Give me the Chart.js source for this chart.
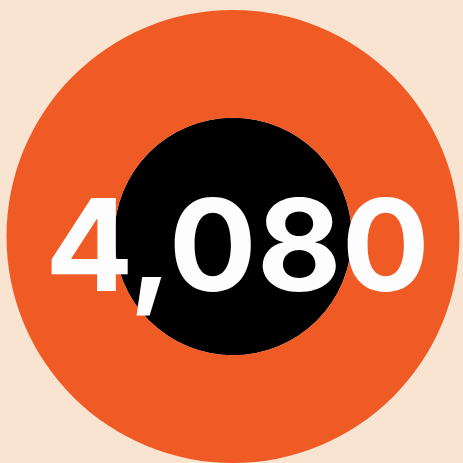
<!DOCTYPE html>
<html>
<head>
<meta charset="utf-8">
<script src="https://cdn.jsdelivr.net/npm/chart.js@4"></script>
<style>
    html, body { margin: 0; padding: 0; background: #f9e4d2; }
    #wrap { width: 463px; height: 463px; }
</style>
</head>
<body>
<div id="wrap"><canvas id="chart"></canvas></div>
<script>
// Chart data: one headline total shown on two stacked discs.
var categories = ["Total"];
var outerValues = [4080];
var innerValues = [4080];
var totalLabel = "4,080";

function drawTotal(chart) {
    // Draw the headline number over the centre of the discs.
    var ctx = chart.ctx;
    var meta = chart.getDatasetMeta(0);
    var cx = meta.data[0].x + 4.5;
    var baseline = meta.data[0].y + 54;
    var targetWidth = 373;
    var targetCap = 93;

    ctx.save();
    ctx.font = "bold 130px Inter, Lato, sans-serif";
    var m = ctx.measureText(totalLabel);
    var cap = ctx.measureText("4").actualBoundingBoxAscent;
    var sy = targetCap / cap;
    var sx = targetWidth / (m.actualBoundingBoxLeft + m.actualBoundingBoxRight);
    ctx.translate(cx, baseline);
    ctx.scale(sx, sy);
    ctx.fillStyle = "#fdfdfd";
    ctx.textAlign = "center";
    ctx.textBaseline = "alphabetic";
    ctx.fillText(totalLabel, 0, 0);
    ctx.restore();
}

new Chart(document.getElementById("chart"), {
    type: 'pie',
    data: {
        labels: categories,
        datasets: [
            {
                label: "Outer",
                data: outerValues,
                backgroundColor: ["#f05a24"],
                borderWidth: 0,
                weight: 108
            },
            {
                label: "Inner",
                data: innerValues,
                backgroundColor: ["#000000"],
                borderWidth: 0,
                weight: 119
            }
        ]
    },
    options: {
        responsive: true,
        maintainAspectRatio: false,
        animation: false,
        devicePixelRatio: 1,
        layout: { padding: { left: 6, right: 3, top: 10, bottom: -1 } },
        plugins: {
            legend: { display: false },
            tooltip: { enabled: false },
            title: { display: false }
        }
    },
    plugins: [{
        id: "totalText",
        afterDraw: drawTotal
    }]
});
</script>
</body>
</html>
